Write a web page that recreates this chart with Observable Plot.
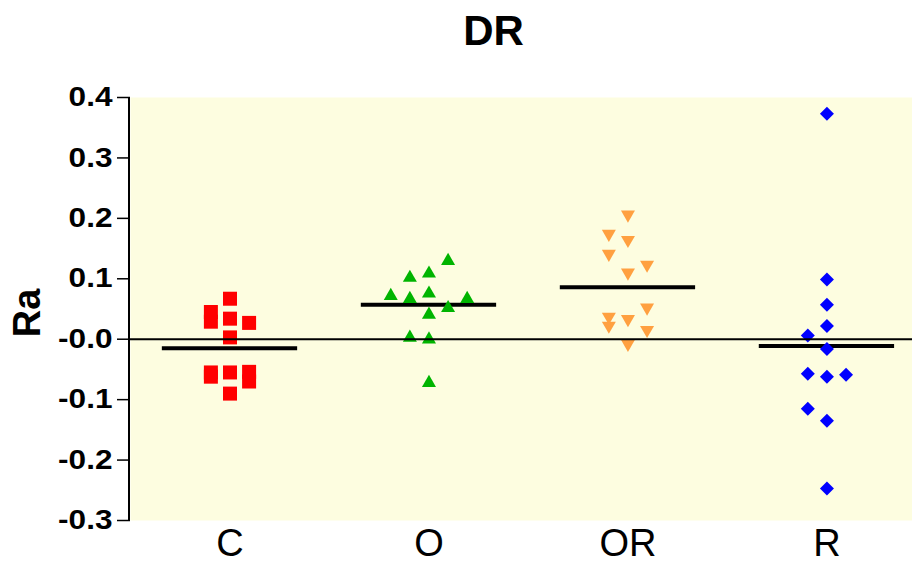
<!DOCTYPE html>
<html><head><meta charset="utf-8">
<script src="https://cdn.jsdelivr.net/npm/d3@7"></script>
<script src="https://cdn.jsdelivr.net/npm/@observablehq/plot@0.6"></script>
<style>
body{margin:0;background:#fff;}
svg{font-family:"Liberation Sans",Arial,Helvetica,sans-serif;}
</style></head><body><div id="chart"></div>
<script>
const title = "DR";
const yLabel = "Ra";
const categories = ["C", "O", "OR", "R"];
const colors = ["#ff0000", "#00b400", "#ffa040", "#0000ff"];

// values; slots = horizontal jitter column (-2..2)
const cValues = [0.067, 0.045, 0.029, 0.034, 0.027, 0.003, -0.055, -0.062, -0.055, -0.054, -0.070, -0.090];
const cSlots  = [0, -1, -1, 0, 1, 0, -1, -1, 0, 1, 1, 0];
const oValues = [0.133, 0.105, 0.112, 0.075, 0.070, 0.079, 0.070, 0.055, 0.044, 0.006, 0.003, -0.069];
const oSlots  = [1, -1, 0, -2, -1, 0, 2, 1, 0, -1, 0, 0];
const orValues = [0.203, 0.171, 0.161, 0.138, 0.120, 0.107, 0.049, 0.034, 0.019, 0.030, 0.012, -0.011];
const orSlots  = [0, -1, 0, -1, 1, 0, 1, -1, -1, 0, 1, 0];
const rValues = [0.373, 0.099, 0.057, 0.022, 0.006, -0.016, -0.057, -0.062, -0.059, -0.115, -0.135, -0.247];
const rSlots  = [0, 0, 0, 0, -1, 0, -1, 0, 1, -1, 0, 0];

const yTicks = [-0.3, -0.2, -0.1, 0, 0.1, 0.2, 0.3, 0.4];
const yTickLabels = ["-0.3", "-0.2", "-0.1", "-0.0", "0.1", "0.2", "0.3", "0.4"];

const slotStep = 0.096;
const groups = [
  {values: cValues, slots: cSlots, symbol: "square", r: 7.9, rotate: 0, dy: 0},
  {values: oValues, slots: oSlots, symbol: "triangle", r: 5.2, rotate: 0, dy: 2},
  {values: orValues, slots: orSlots, symbol: "triangle", r: 5.2, rotate: 180, dy: -2},
  {values: rValues, slots: rSlots, symbol: "diamond2", r: 6.3, rotate: 0, dy: 0}
];
const points = groups.map((g, i) => g.values.map((v, j) => ({i, x: i + g.slots[j] * slotStep, y: v})));
const means = groups.map((g, i) => ({i, mean: d3.mean(g.values)}));

const svg = Plot.plot({
  width: 912,
  height: 565,
  marginLeft: 130,
  marginRight: 0,
  marginTop: 97,
  marginBottom: 45,
  x: {type: "linear", domain: [-0.5, 3.43]},
  y: {domain: [-0.3, 0.4]},
  marks: [
    Plot.frame({fill: "#fdfde0", stroke: null}),
    Plot.ruleY(means, {y: "mean", x1: d => d.i - 0.34, x2: d => d.i + 0.34, stroke: "black", strokeWidth: 4}),
    ...groups.map((g, k) => Plot.dot(points[k], {
      x: "x", y: "y", symbol: g.symbol, r: g.r, fill: colors[k], stroke: null,
      rotate: g.rotate, dy: g.dy
    })),
    Plot.ruleY([0], {stroke: "black", strokeWidth: 2}),
    Plot.ruleX([-0.5], {stroke: "black", strokeWidth: 2, dx: -1.5}),
    Plot.axisY({ticks: yTicks, tickFormat: d => yTickLabels[yTicks.indexOf(d)], tickSize: 13, tickPadding: 5,
      fontSize: 27, fontWeight: "bold", label: null, strokeWidth: 1.5, color: "black"}),
    Plot.axisX({ticks: [0, 1, 2, 3], tickFormat: i => categories[i], tickSize: 0, tickPadding: 9,
      fontSize: 38, label: null, color: "black"}),
    Plot.text([title], {text: d => d, frameAnchor: "top-left", dx: 363, dy: -66, fontSize: 42, fontWeight: "bold",
      textAnchor: "middle", lineAnchor: "middle", fill: "black"}),
    Plot.text([yLabel], {text: d => d, frameAnchor: "left", rotate: -90, dx: -103, dy: 4, fontSize: 38,
      fontWeight: "bold", textAnchor: "middle", lineAnchor: "middle", fill: "black"})
  ]
});

document.getElementById("chart").appendChild(svg);

// widen the y tick labels as in the reference
svg.querySelectorAll('[aria-label="y-axis tick label"] text').forEach(t => {
  const w = t.getComputedTextLength();
  if (w > 0) {
    t.setAttribute("textLength", (w * 1.17).toFixed(1));
    t.setAttribute("lengthAdjust", "spacingAndGlyphs");
  }
});
</script></body></html>
